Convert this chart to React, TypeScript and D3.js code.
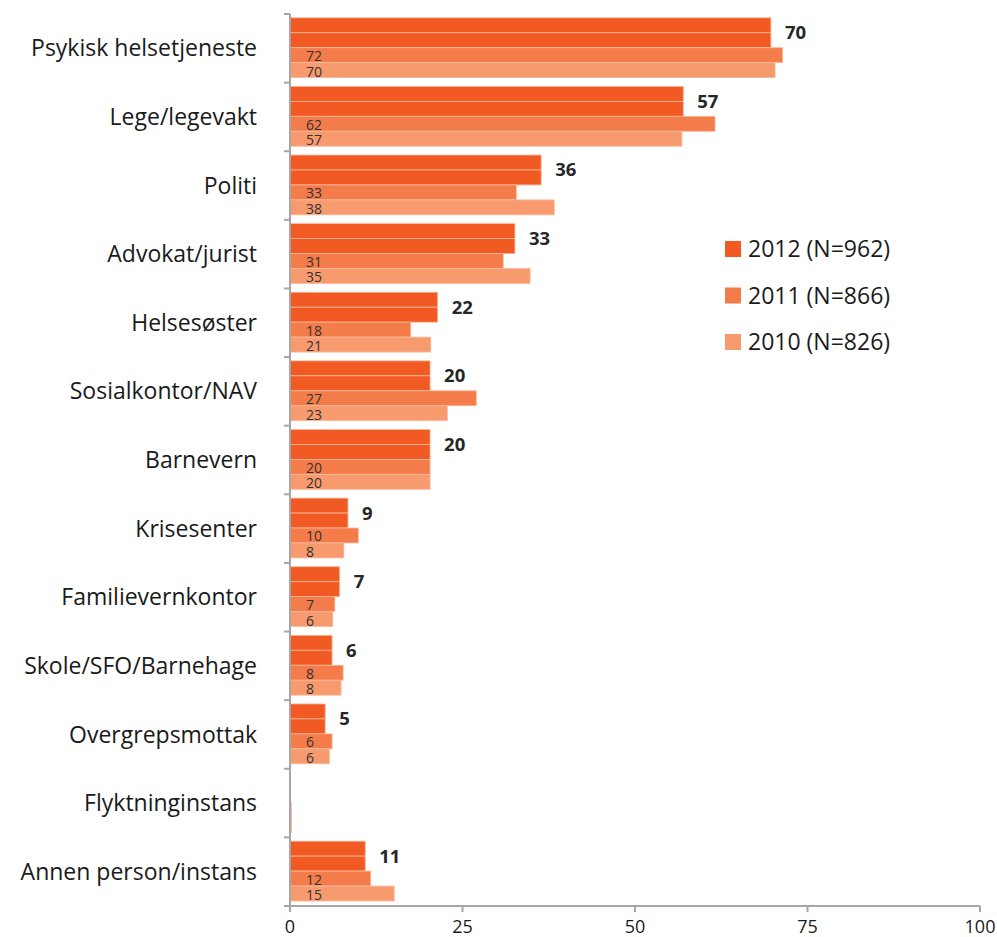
import React from "react";
import * as d3 from "d3";

const categories = [
  "Psykisk helsetjeneste",
  "Lege/legevakt",
  "Politi",
  "Advokat/jurist",
  "Helsesøster",
  "Sosialkontor/NAV",
  "Barnevern",
  "Krisesenter",
  "Familievernkontor",
  "Skole/SFO/Barnehage",
  "Overgrepsmottak",
  "Flyktninginstans",
  "Annen person/instans",
];

const values2012 = [69.7, 57, 36.4, 32.6, 21.4, 20.3, 20.3, 8.4, 7.2, 6.1, 5.1, 0, 10.9];
const values2011 = [71.4, 61.6, 32.8, 30.9, 17.5, 27.0, 20.3, 9.9, 6.5, 7.7, 6.1, 0.2, 11.7];
const values2010 = [70.3, 56.8, 38.3, 34.8, 20.4, 22.8, 20.3, 7.8, 6.2, 7.4, 5.7, 0.2, 15.1];
const labels2012 = ["70", "57", "36", "33", "22", "20", "20", "9", "7", "6", "5", "", "11"];
const labels2011 = ["72", "62", "33", "31", "18", "27", "20", "10", "7", "8", "6", "", "12"];
const labels2010 = ["70", "57", "38", "35", "21", "23", "20", "8", "6", "8", "6", "", "15"];

const legendItems = ["2012 (N=962)", "2011 (N=866)", "2010 (N=826)"];
const xTicks = [0, 25, 50, 75, 100];

const colors = ["#f15a22", "#f47b4a", "#f79b6f"];
const font = "'Open Sans', Lato, sans-serif";

export default function App() {
  const width = 997;
  const height = 937;
  const left = 290;
  const right = 980;
  const top = 14;
  const bottom = 906;

  const x = d3.scaleLinear().domain([0, 100]).range([left, right]);
  const y = d3.scaleBand<string>().domain(categories).range([top, bottom]).padding(0);
  const bw = y.bandwidth();
  // 2012 is drawn as two stacked slots, then 2011 and 2010
  const sub = d3.scaleBand<number>().domain([0, 1, 2, 3]).range([3.8, bw - 5]).padding(0);
  const sh = sub.bandwidth();

  const rows = categories.map((c, i) => ({
    c,
    v12: values2012[i],
    v11: values2011[i],
    v10: values2010[i],
    l12: labels2012[i],
    l11: labels2011[i],
    l10: labels2010[i],
  }));

  const barStroke = "#f9b99b";

  return (
    <svg width={width} height={height} style={{ position: "absolute", left: 0, top: 0 }} fontFamily={font}>
      <rect width={width} height={height} fill="#fff" />
      {rows.map((r) => {
        const y0 = y(r.c)!;
        return (
          <g key={r.c}>
            {[0, 1].map((k) => (
              r.v12 > 0 ? (
                <rect key={k} x={x(0)} y={y0 + sub(k)!} width={x(r.v12) - x(0)} height={sh}
                  fill={colors[0]} stroke={barStroke} strokeWidth={0.8} />
              ) : null
            ))}
            <rect x={x(0)} y={y0 + sub(2)!} width={Math.max(0, x(r.v11) - x(0))} height={sh}
              fill={colors[1]} stroke={barStroke} strokeWidth={0.8} />
            <rect x={x(0)} y={y0 + sub(3)!} width={Math.max(0, x(r.v10) - x(0))} height={sh}
              fill={colors[2]} stroke={barStroke} strokeWidth={0.8} />
            {r.l12 && (
              <text x={x(r.v12) + 14} y={y0 + sub(1)!} dy="0.35em" fontSize={18.5} fontWeight="bold" fill="#262626">
                {r.l12}
              </text>
            )}
            {r.l11 && (
              <text x={x(0) + 16} y={y0 + sub(2)! + sh - 1.5} fontSize={14} fill="#333">
                {r.l11}
              </text>
            )}
            {r.l10 && (
              <text x={x(0) + 16} y={y0 + sub(3)! + sh - 1} fontSize={14} fill="#333">
                {r.l10}
              </text>
            )}
            <text x={257} y={y0 + bw / 2} dy="0.35em" textAnchor="end" fontSize={23} fill="#1a1a1a">
              {r.c}
            </text>
          </g>
        );
      })}

      {/* y axis */}
      <line x1={x(0)} x2={x(0)} y1={top} y2={bottom} stroke="#a6a6a6" strokeWidth={2} />
      {[...categories.map((c) => y(c)!), bottom].map((ty, i) => (
        <line key={i} x1={x(0) - 6} x2={x(0)} y1={ty} y2={ty} stroke="#a6a6a6" strokeWidth={2} />
      ))}

      {/* x axis */}
      <line x1={x(0) - 6} x2={x(100)} y1={bottom} y2={bottom} stroke="#a6a6a6" strokeWidth={2} />
      {xTicks.map((t) => (
        <g key={t}>
          <line x1={x(t)} x2={x(t)} y1={bottom} y2={bottom + 6} stroke="#a6a6a6" strokeWidth={2} />
          <text x={x(t)} y={933} textAnchor="middle" fontSize={18} fill="#1a1a1a">
            {t}
          </text>
        </g>
      ))}

      {/* legend */}
      {legendItems.map((l, i) => (
        <g key={l} transform={`translate(725,${249 + i * 46.5})`}>
          <rect x={0} y={-8} width={16} height={16} fill={colors[i]} />
          <text x={23} y={0} dy="0.35em" fontSize={23} fill="#1a1a1a">
            {l}
          </text>
        </g>
      ))}
    </svg>
  );
}
